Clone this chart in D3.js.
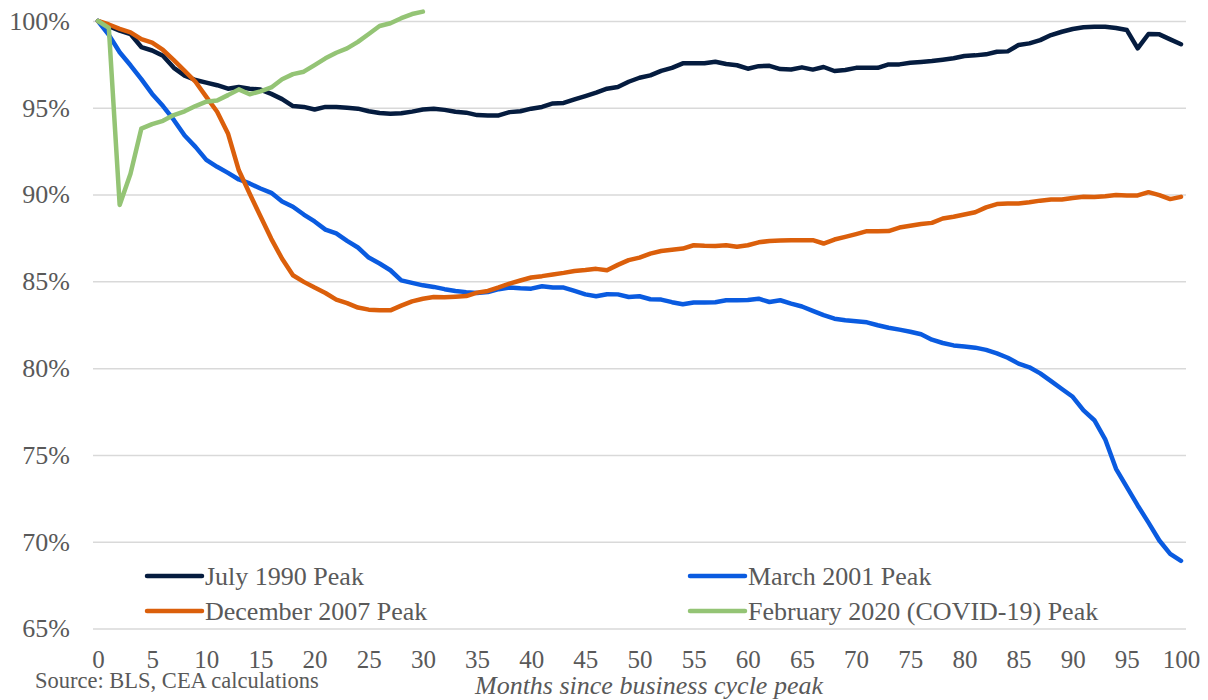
<!DOCTYPE html>
<html>
<head>
<meta charset="utf-8">
<script src="https://cdn.jsdelivr.net/npm/d3@7"></script>
<style>
  html, body { margin: 0; padding: 0; background: #fff; }
  svg { display: block; font-family: "Liberation Serif", "Times New Roman", serif; }
</style>
</head>
<body>
<svg width="1208" height="700"></svg>
<script>
// months since peak, 0..100
const months = d3.range(0, 101);

const july1990 = [
    100, 99.7, 99.45, 99.25, 98.5, 98.3, 98.0, 97.3, 96.85, 96.6,
    96.45, 96.3, 96.1, 96.2, 96.1, 96.05, 95.8, 95.5, 95.1, 95.05,
    94.9, 95.05, 95.05, 95.0, 94.95, 94.8, 94.7, 94.65, 94.68, 94.78,
    94.9, 94.95, 94.88, 94.77, 94.72, 94.58, 94.55, 94.56, 94.75, 94.8,
    94.95, 95.05, 95.25, 95.28, 95.48, 95.67, 95.87, 96.1, 96.2, 96.5,
    96.73, 96.87, 97.13, 97.3, 97.56, 97.56, 97.56, 97.65, 97.52, 97.45,
    97.25, 97.4, 97.42, 97.23, 97.21, 97.33, 97.2, 97.35, 97.12, 97.18,
    97.3, 97.3, 97.3, 97.5, 97.5, 97.59, 97.64, 97.69, 97.77, 97.85,
    97.98, 98.02, 98.08, 98.23, 98.25, 98.62, 98.71, 98.9, 99.19, 99.38,
    99.54, 99.64, 99.67, 99.67, 99.6, 99.48, 98.42, 99.25, 99.23, 98.94,
    98.66
];

const march2001 = [
    100, 99.2, 98.2, 97.45, 96.65, 95.8, 95.1, 94.3, 93.4, 92.75,
    92.0, 91.6, 91.25, 90.87, 90.64, 90.35, 90.1, 89.6, 89.3, 88.85,
    88.45, 87.98, 87.76, 87.33, 86.95, 86.37, 86.03, 85.64, 85.06, 84.91,
    84.77, 84.68, 84.55, 84.45, 84.38, 84.33, 84.38, 84.55, 84.64, 84.6,
    84.58, 84.72, 84.64, 84.64, 84.45, 84.25, 84.14, 84.26, 84.25, 84.1,
    84.14, 83.97, 83.95, 83.8, 83.68, 83.78, 83.78, 83.8, 83.91, 83.91,
    83.92, 84.0, 83.81, 83.91, 83.72, 83.55, 83.3, 83.05, 82.85, 82.76,
    82.7, 82.64, 82.47, 82.33, 82.22, 82.1, 81.95, 81.64, 81.45, 81.31,
    81.25, 81.18, 81.05, 80.85, 80.6, 80.26, 80.05, 79.7, 79.25, 78.8,
    78.35, 77.57, 77.0, 75.9, 74.2, 73.14, 72.09, 71.1, 70.07, 69.3,
    68.9
];

const december2007 = [
    100, 99.8, 99.55, 99.35, 98.95, 98.75, 98.33, 97.75, 97.13, 96.5,
    95.63, 94.77, 93.52, 91.4, 90.06, 88.75, 87.45, 86.3, 85.35, 84.97,
    84.64, 84.33, 83.95, 83.75, 83.49, 83.37, 83.33, 83.33, 83.6, 83.85,
    84.0, 84.1, 84.08, 84.12, 84.15, 84.35, 84.45, 84.65, 84.87, 85.05,
    85.22, 85.3, 85.4, 85.49, 85.6, 85.65, 85.72, 85.64, 85.95, 86.22,
    86.37, 86.6, 86.75, 86.82, 86.89, 87.08, 87.05, 87.04, 87.08, 86.99,
    87.08, 87.25, 87.33, 87.35, 87.37, 87.37, 87.37, 87.18, 87.41, 87.56,
    87.72, 87.89, 87.89, 87.9, 88.1, 88.2, 88.3, 88.37, 88.62, 88.72,
    88.85, 88.98, 89.26, 89.45, 89.48, 89.49, 89.56, 89.65, 89.72, 89.72,
    89.8, 89.87, 89.86, 89.9, 89.97, 89.95, 89.95, 90.14, 89.97, 89.74,
    89.87
];

const february2020 = [
    100, 99.6, 89.4, 91.2, 93.8, 94.06, 94.25, 94.58, 94.8, 95.1,
    95.35, 95.42, 95.73, 96.06, 95.78, 95.95, 96.17, 96.64, 96.94, 97.08,
    97.46, 97.85, 98.17, 98.42, 98.8, 99.25, 99.71, 99.87, 100.16, 100.4,
    100.54
];

const seriesNames = ["July 1990 Peak", "March 2001 Peak", "December 2007 Peak", "February 2020 (COVID-19) Peak"];
const seriesValues = [july1990, march2001, december2007, february2020];
const colors = ["#051c3f", "#0a5be0", "#db5f0b", "#94c475"];

const yTicks = [65, 70, 75, 80, 85, 90, 95, 100];
const xTicks = d3.range(0, 101, 5);

const svg = d3.select("svg");

const x = d3.scaleLinear().domain([0, 100]).range([98, 1181]);
const y = d3.scaleLinear().domain([65, 100]).range([628.5, 21]);

const gridLeft = 93, gridRight = 1186;

// Y axis with grid
const yAxis = svg.append("g")
    .attr("transform", `translate(${gridLeft},0)`)
    .call(d3.axisLeft(y)
        .tickValues(yTicks)
        .tickFormat(d => `${d}%`)
        .tickSize(-(gridRight - gridLeft))
        .tickPadding(23));
yAxis.select(".domain").remove();
yAxis.selectAll("line").attr("stroke", "#d9d9d9").attr("stroke-width", 1.5);
yAxis.selectAll("text")
    .attr("fill", "#595959")
    .style("font-size", "26px")
    .style("font-family", "Liberation Serif, serif");

// X axis
const xAxis = svg.append("g")
    .attr("transform", `translate(0,${y(65)})`)
    .call(d3.axisBottom(x).tickValues(xTicks).tickSize(0).tickPadding(22));
xAxis.select(".domain").remove();
xAxis.selectAll("text")
    .attr("fill", "#595959")
    .style("font-size", "25px")
    .style("font-family", "Liberation Serif, serif");

// Lines
const line = d3.line()
    .x((d, i) => x(months[i]))
    .y(d => y(d));

seriesValues.forEach((vals, i) => {
    svg.append("path")
        .datum(vals)
        .attr("fill", "none")
        .attr("stroke", colors[i])
        .attr("stroke-width", 4.5)
        .attr("stroke-linejoin", "round")
        .attr("stroke-linecap", "round")
        .attr("d", line);
});

// Legend (2 x 2)
const legendPos = [[147, 576], [690, 576], [147, 611], [690, 611]];
seriesNames.forEach((name, i) => {
    const [lx, ly] = legendPos[i];
    const g = svg.append("g").attr("transform", `translate(${lx},${ly})`);
    g.append("line")
        .attr("x1", 0).attr("x2", 55)
        .attr("stroke", colors[i])
        .attr("stroke-width", 4.5)
        .attr("stroke-linecap", "round");
    g.append("text")
        .attr("x", 58)
        .attr("dy", "0.35em")
        .attr("fill", "#595959")
        .style("font-size", "26px")
        .text(name);
});

// Source and axis title
svg.append("text")
    .attr("x", 35).attr("y", 688)
    .attr("fill", "#595959")
    .style("font-size", "22.5px")
    .text("Source: BLS, CEA calculations");

svg.append("text")
    .attr("x", 649).attr("y", 694)
    .attr("text-anchor", "middle")
    .attr("fill", "#595959")
    .style("font-size", "26px")
    .style("font-style", "italic")
    .text("Months since business cycle peak");
</script>
</body>
</html>
